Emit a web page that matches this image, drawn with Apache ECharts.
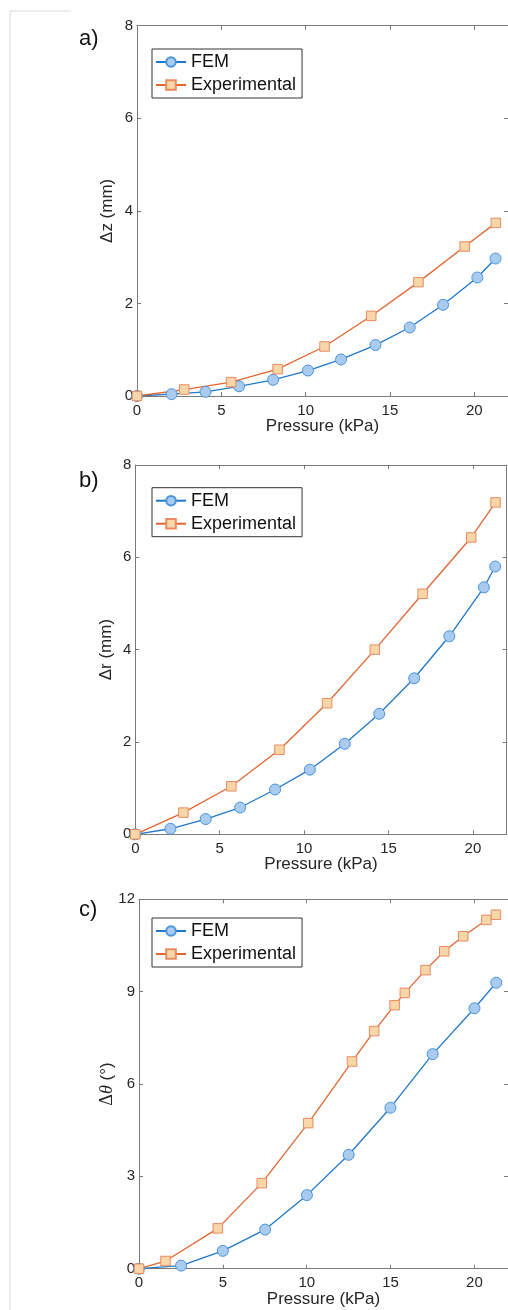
<!DOCTYPE html>
<html>
<head>
<meta charset="utf-8">
<script src="https://cdn.jsdelivr.net/npm/echarts@6/dist/echarts.min.js"></script>
<style>
  html, body { margin: 0; padding: 0; background: #fff; }
  #chart { width: 508px; height: 1310px; }
</style>
</head>
<body>
<div id="chart"></div>
<script>
// a) axial displacement
const femPressureA = [0, 2.05, 4.06, 6.05, 8.07, 10.14, 12.1, 14.14, 16.17, 18.15, 20.18, 21.26]
const femDzA = [0, 0.04, 0.09, 0.21, 0.35, 0.55, 0.79, 1.10, 1.48, 1.97, 2.56, 2.97]
const expPressureA = [0, 2.8, 5.58, 8.34, 11.12, 13.89, 16.69, 19.43, 21.28]
const expDzA = [0, 0.14, 0.30, 0.58, 1.07, 1.73, 2.46, 3.23, 3.74]

// b) radial displacement
const femPressureB = [0, 2.08, 4.17, 6.21, 8.28, 10.34, 12.41, 14.45, 16.52, 18.6, 20.65, 21.32]
const femDrB = [0, 0.12, 0.33, 0.58, 0.97, 1.40, 1.96, 2.61, 3.38, 4.29, 5.35, 5.80]
const expPressureB = [0, 2.85, 5.69, 8.54, 11.36, 14.19, 17.02, 19.9, 21.34]
const expDrB = [0, 0.47, 1.04, 1.83, 2.84, 4.0, 5.21, 6.43, 7.19]

// c) bending angle
const femPressureC = [0, 2.51, 5.0, 7.52, 10.01, 12.5, 14.99, 17.51, 20.0, 21.3]
const femDthC = [0, 0.10, 0.58, 1.27, 2.39, 3.70, 5.23, 6.97, 8.46, 9.29]
const expPressureC = [0, 1.58, 4.7, 7.32, 10.09, 12.7, 14.02, 15.24, 15.85, 17.08, 18.2, 19.33, 20.71, 21.28]
const expDthC = [0, 0.25, 1.31, 2.78, 4.73, 6.73, 7.72, 8.56, 8.96, 9.70, 10.31, 10.80, 11.33, 11.50]

const xTicks = [0, 22, 5]          // min, max, interval
const yTicksA = [0, 8, 2]
const yTicksB = [0, 8, 2]
const yTicksC = [0, 12, 3]

const font = 'Liberation Sans, Arial, Helvetica, sans-serif'
const axisColor = '#7a7a7a'
const textColor = '#262626'

function zip(xs, ys) {
  return xs.map((x, i) => [x, ys[i]])
}

let grids = [
  {left: 137, top: 25.7, width: 372, height: 370.3},
  {left: 135.3, top: 465, width: 371.4, height: 369.3},
  {left: 139, top: 899.3, width: 371.5, height: 369.4}
]
let yTicks = [yTicksA, yTicksB, yTicksC]
let yNames = ['Δz (mm)', 'Δr (mm)', '{s|Δ}{i|θ} (°)']
let yNameGaps = [21, 20, 23]

// box axes: no snapping to zero, ticks pointing into the plot
function boxAxis(extra) {
  return Object.assign({
    type: 'value',
    axisLine: {show: true, onZero: false, lineStyle: {color: axisColor, width: 1}},
    axisTick: {show: true, inside: true, length: 4, lineStyle: {color: axisColor}},
    splitLine: {show: false}
  }, extra)
}

let xAxis = []
let yAxis = []
grids.forEach((g, i) => {
  xAxis.push(boxAxis({
    gridIndex: i, position: 'bottom',
    min: xTicks[0], max: xTicks[1], interval: xTicks[2],
    name: 'Pressure (kPa)', nameLocation: 'middle', nameGap: 22,
    nameMoveOverlap: false,
    nameTextStyle: {fontFamily: font, fontSize: 17, color: textColor},
    axisLabel: {fontFamily: font, fontSize: 15, color: textColor, margin: 7, showMaxLabel: false}
  }))
  xAxis.push(boxAxis({
    gridIndex: i, position: 'top',
    min: xTicks[0], max: xTicks[1], interval: xTicks[2],
    axisLabel: {show: false}
  }))
  yAxis.push(boxAxis({
    gridIndex: i, position: 'left',
    min: yTicks[i][0], max: yTicks[i][1], interval: yTicks[i][2],
    name: yNames[i], nameLocation: 'middle', nameGap: yNameGaps[i],
    nameMoveOverlap: false,
    nameTextStyle: {
      fontFamily: font, fontSize: 17, color: textColor,
      rich: {
        s: {fontFamily: 'Liberation Serif, DejaVu Serif, serif', fontSize: 18, color: textColor},
        i: {fontFamily: 'Liberation Serif, DejaVu Serif, serif', fontStyle: 'italic', fontSize: 18, color: textColor}
      }
    },
    axisLabel: {fontFamily: font, fontSize: 15, color: textColor, margin: 4}
  }))
  yAxis.push(boxAxis({
    gridIndex: i, position: 'right',
    min: yTicks[i][0], max: yTicks[i][1], interval: yTicks[i][2],
    axisLabel: {show: false}
  }))
})

function femSeries(i, data) {
  return {
    name: 'FEM', type: 'line', xAxisIndex: i * 2, yAxisIndex: i * 2,
    data: data, symbol: 'circle', symbolSize: 11, showAllSymbol: true,
    lineStyle: {color: '#1f78c8', width: 1.3},
    itemStyle: {color: '#a9cbef', borderColor: '#4a94dc', borderWidth: 1},
    animation: false
  }
}
function expSeries(i, data) {
  return {
    name: 'Experimental', type: 'line', xAxisIndex: i * 2, yAxisIndex: i * 2,
    data: data, symbol: 'rect', symbolSize: 9.5, showAllSymbol: true,
    lineStyle: {color: '#e0662f', width: 1.3},
    itemStyle: {color: '#f7d6a9', borderColor: '#ea8a5e', borderWidth: 1},
    animation: false
  }
}

let legendTops = [49, 487.7, 918]
let legends = legendTops.map(t => ({
  data: ['FEM', 'Experimental'],
  orient: 'vertical', left: 152, top: t,
  itemWidth: 30, itemHeight: 12, itemGap: 5,
  padding: [4, 6, 4, 3],
  borderColor: '#333', borderWidth: 1, backgroundColor: '#fff',
  textStyle: {fontFamily: font, fontSize: 18, color: '#111'},
  selectedMode: false
}))

let panelLabels = [['a)', 28], ['b)', 470], ['c)', 899]]

let option = {
  backgroundColor: '#fff',
  animation: false,
  title: panelLabels.map(p => ({
    text: p[0], left: 79, top: p[1], padding: 0,
    textStyle: {fontFamily: font, fontSize: 22, fontWeight: 'normal', color: '#111'}
  })),
  graphic: [
    {type: 'line', shape: {x1: 10, y1: 11, x2: 71, y2: 11}, style: {stroke: '#dadada', lineWidth: 1}, silent: true},
    {type: 'line', shape: {x1: 10, y1: 11, x2: 10, y2: 1310}, style: {stroke: '#dadada', lineWidth: 1}, silent: true}
  ],
  legend: legends,
  grid: grids,
  xAxis: xAxis,
  yAxis: yAxis,
  series: [
    femSeries(0, zip(femPressureA, femDzA)),
    expSeries(0, zip(expPressureA, expDzA)),
    femSeries(1, zip(femPressureB, femDrB)),
    expSeries(1, zip(expPressureB, expDrB)),
    femSeries(2, zip(femPressureC, femDthC)),
    expSeries(2, zip(expPressureC, expDthC))
  ]
}

let chart = echarts.init(document.getElementById('chart'))
chart.setOption(option)
</script>
</body>
</html>
